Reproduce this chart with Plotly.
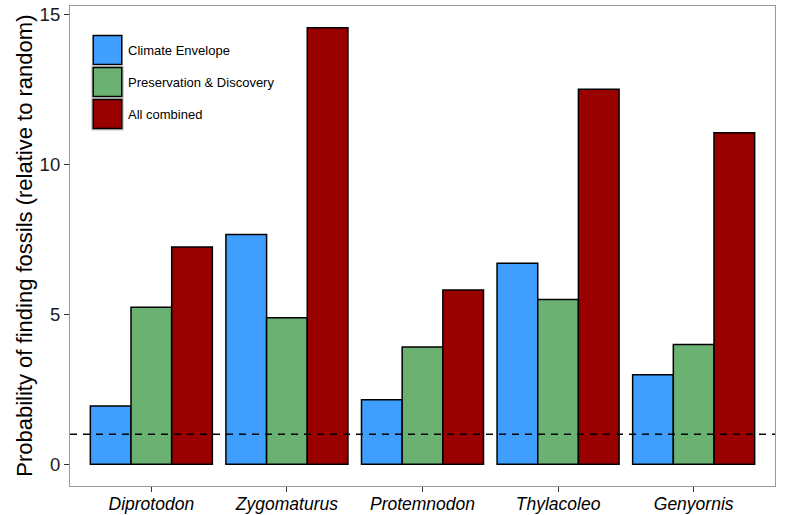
import plotly.graph_objects as go

taxa = ["Diprotodon", "Zygomaturus", "Protemnodon", "Thylacoleo", "Genyornis"]
series_names = ["Climate Envelope", "Preservation & Discovery", "All combined"]
climate = [1.94, 7.66, 2.15, 6.70, 2.98]
preservation = [5.23, 4.88, 3.91, 5.49, 3.99]
combined = [7.24, 14.55, 5.81, 12.50, 11.05]
colors = ["#409EFF", "#6BB172", "#990000"]
baseline = 1

W, H = 785, 515
L, R, T, B = 70, 775, 6.2, 486.3

fig = go.Figure()
for name, vals, col in zip(series_names, [climate, preservation, combined], colors):
    fig.add_trace(go.Bar(x=taxa, y=vals, name=name, marker=dict(color=col, line=dict(color="black", width=1.5)),
                         showlegend=False, hoverinfo="skip"))

fig.add_hline(y=baseline, line=dict(color="black", width=1.5, dash="7px,6px"))

def px2paper(x, y):
    return (x - L) / (R - L), (B - y) / (B - T)

shapes = []
annotations = []
key_x0, key_x1 = 91.7, 123.3
key_tops = [34.3, 66.3, 98.3]
kh = 32
for i, (name, col) in enumerate(zip(series_names, colors)):
    y0 = key_tops[i]
    y1 = y0 + kh
    ax0, ay1 = px2paper(key_x0, y0)
    ax1, ay0 = px2paper(key_x1, y1)
    shapes.append(dict(type="rect", xref="paper", yref="paper", x0=ax0, x1=ax1, y0=ay0, y1=ay1,
                       fillcolor="#d9d9d9", line=dict(color="#c8c8c8", width=1), layer="above"))
    bx0, by1 = px2paper(key_x0 + 1.5, y0 + 1.5)
    bx1, by0 = px2paper(key_x1 - 1.5, y1 - 1.5)
    shapes.append(dict(type="rect", xref="paper", yref="paper", x0=bx0, x1=bx1, y0=by0, y1=by1,
                       fillcolor=col, line=dict(color="black", width=1.5), layer="above"))
    tx, ty = px2paper(126, (y0 + y1) / 2)
    annotations.append(dict(xref="paper", yref="paper", x=tx, y=ty, text=name, showarrow=False,
                            xanchor="left", yanchor="middle",
                            font=dict(family="Liberation Sans, Arial", size=13, color="black")))

# y-axis title
tx, ty = px2paper(25, 246)
annotations.append(dict(xref="paper", yref="paper", x=tx, y=ty, text="Probability of finding fossils (relative to random)",
                        showarrow=False, textangle=-90, xanchor="center", yanchor="middle",
                        font=dict(family="Liberation Sans, Arial", size=22, color="black")))

ymin = -0.05 * max(combined)
ymax = max(combined) * 1.05

fig.update_layout(
    width=W, height=H,
    margin=dict(l=L, r=W - R, t=T, b=H - B, autoexpand=False),
    plot_bgcolor="white", paper_bgcolor="white",
    barmode="group", bargap=0.1, bargroupgap=0,
    shapes=shapes, annotations=annotations,
    font=dict(family="Liberation Sans, Arial", color="black"),
    hovermode=False,
)
fig.update_xaxes(range=[-0.6, 4.6], showline=True, mirror=True, linecolor="#9a9a9a", linewidth=1.2,
                 ticks="outside", ticklen=5, tickcolor="#333333", tickwidth=1.2, automargin=False,
                 ticklabelstandoff=-3,
                 tickfont=dict(size=17.5, family="Liberation Sans, Arial", color="black", style="italic"),
                 showgrid=False, zeroline=False)
fig.update_yaxes(range=[ymin, ymax], showline=True, mirror=True, linecolor="#9a9a9a", linewidth=1.2,
                 ticks="outside", ticklen=5, tickcolor="#333333", tickwidth=1.2, automargin=False,
                 tickvals=[0, 5, 10, 15], tickfont=dict(size=18.5, color="#1a1a1a"),
                 showgrid=False, zeroline=False)

fig.write_html("out.html", config={"displayModeBar": False},
               post_script="document.body.style.margin='0';")
